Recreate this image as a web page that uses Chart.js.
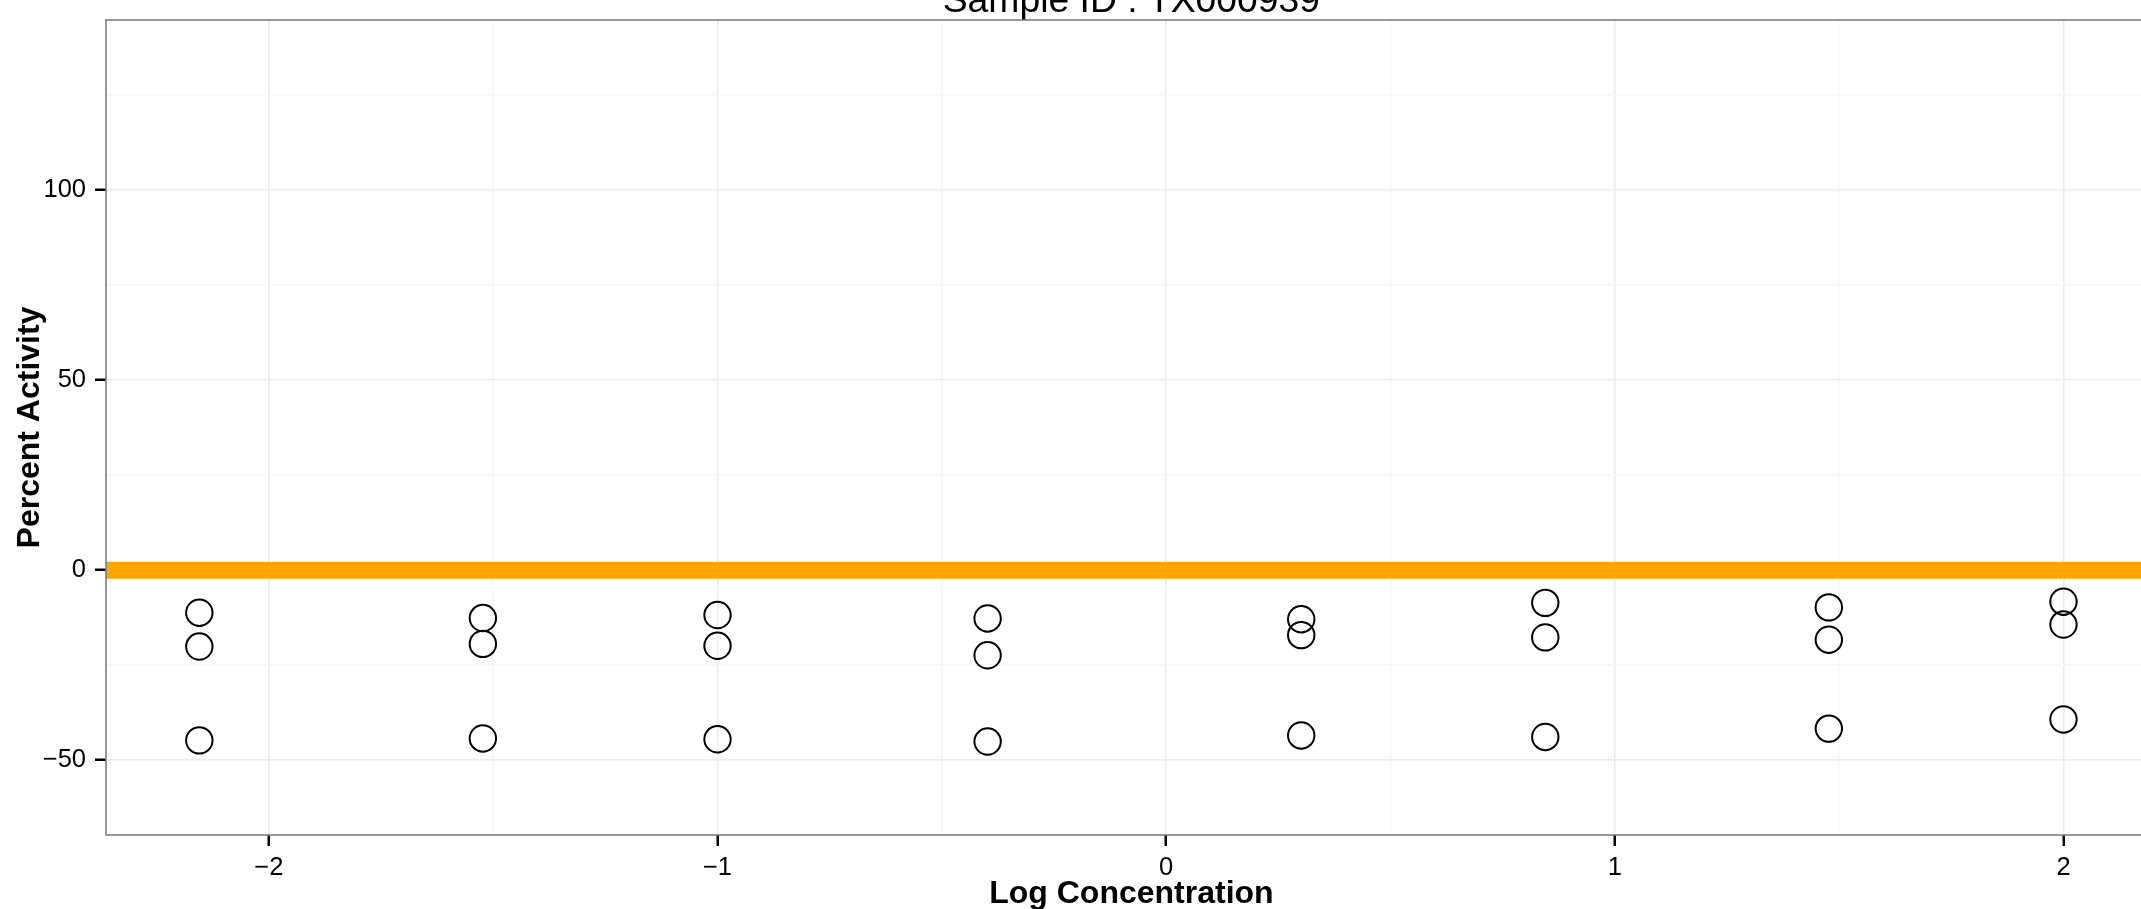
<!DOCTYPE html>
<html>
<head>
<meta charset="utf-8">
<script src="https://cdn.jsdelivr.net/npm/chart.js@4"></script>
<style>
  html, body { margin: 0; padding: 0; background: #ffffff; overflow: hidden; width: 2141px; height: 909px; }
  #wrap { position: absolute; left: 0; top: -40px; }
  canvas { display: block; }
</style>
</head>
<body>
<div id="wrap"><canvas id="c" width="2172" height="949"></canvas></div>
<script>
// ---- data ----
const logConc   = [-2.155, -1.523, -1.0, -0.398, 0.301, 0.845, 1.477, 2.0];
const activityA = [-11.2, -12.6, -11.8, -12.7, -12.9, -8.6, -9.8, -8.3];
const activityB = [-20.1, -19.4, -19.9, -22.4, -17.1, -17.7, -18.3, -14.3];
const activityC = [-44.8, -44.3, -44.5, -45.1, -43.5, -43.9, -41.7, -39.3];
const fitX = [-2.363, 2.208];
const fitY = [0, 0];
const xMajorTicks = [-2, -1, 0, 1, 2];
const xMinorTicks = [-1.5, -0.5, 0.5, 1.5];
const xTickLabels = ['\u22122', '\u22121', '0', '1', '2'];
const yMajorTicks = [-50, 0, 50, 100];
const yMinorTicks = [-25, 25, 75, 125];
const yTickLabels = ['\u221250', '0', '50', '100'];
const titleText = 'Sample ID : TX000939';
const xTitle = 'Log Concentration';
const yTitle = 'Percent Activity';
const xLimits = [-2.363, 2.208];
const yLimits = [-69.7, 144.8];

// ---- build ----
const points = [];
logConc.forEach((x, i) => {
  points.push({x: x, y: activityA[i]});
  points.push({x: x, y: activityB[i]});
  points.push({x: x, y: activityC[i]});
});
const fitLine = fitX.map((x, i) => ({x: x, y: fitY[i]}));

const FONT = '"Liberation Sans", Arial, Helvetica, sans-serif';
const MAJOR_GRID = '#EBEBEB';
const MINOR_GRID = '#F7F7F7';

function tickSetter(major, minor) {
  return function(scale) {
    scale.ticks = major.concat(minor).sort((a, b) => a - b).map(v => ({value: v}));
  };
}
function isMajor(list, ctx) {
  return ctx && ctx.tick && list.includes(ctx.tick.value);
}

const framePlugin = {
  id: 'panelFrame',
  afterDraw(chart) {
    const a = chart.chartArea;
    const ctx = chart.ctx;
    ctx.save();
    ctx.strokeStyle = '#7F7F7F';
    ctx.lineWidth = 1.6;
    ctx.strokeRect(a.left, a.top, a.right - a.left, a.bottom - a.top);
    ctx.restore();
  }
};

new Chart(document.getElementById('c'), {
  type: 'scatter',
  data: {
    datasets: [
      { type: 'line', data: fitLine, borderColor: '#FFA500', borderWidth: 17, pointRadius: 0, fill: false, tension: 0 },
      { type: 'scatter', data: points, pointRadius: 13.2, pointBorderWidth: 2, borderColor: '#000000',
        backgroundColor: 'rgba(0,0,0,0)', pointBackgroundColor: 'rgba(0,0,0,0)', pointBorderColor: '#000000' }
    ]
  },
  options: {
    responsive: false,
    animation: false,
    devicePixelRatio: 1,
    layout: { padding: { left: 0, right: 3.6, top: 0, bottom: 0 } },
    plugins: {
      legend: { display: false },
      tooltip: { enabled: false },
      title: {
        display: true, text: titleText, fullSize: false, color: '#000000',
        font: { family: FONT, size: 37.3, weight: 'normal', lineHeight: 1 },
        padding: { top: 22.7, bottom: 0 }
      }
    },
    scales: {
      x: {
        type: 'linear', position: 'bottom', min: xLimits[0], max: xLimits[1],
        afterBuildTicks: tickSetter(xMajorTicks, xMinorTicks),
        afterFit(scale) { scale.height = 74; },
        border: { display: false },
        grid: {
          color: ctx => isMajor(xMajorTicks, ctx) ? MAJOR_GRID : MINOR_GRID,
          lineWidth: 1.5, drawTicks: true, tickLength: 11, tickWidth: 2.5,
          tickColor: ctx => isMajor(xMajorTicks, ctx) ? '#000000' : 'rgba(0,0,0,0)'
        },
        ticks: {
          autoSkip: false, maxRotation: 0, padding: 7, color: '#000000',
          font: { family: FONT, size: 25.5 },
          callback: v => { const i = xMajorTicks.indexOf(v); return i >= 0 ? xTickLabels[i] : ''; }
        },
        title: {
          display: true, text: xTitle, color: '#000000',
          font: { family: FONT, size: 32, weight: 'bold', lineHeight: 0.9 },
          padding: { top: 0, bottom: 0.6 }
        }
      },
      y: {
        type: 'linear', position: 'left', min: yLimits[0], max: yLimits[1],
        afterBuildTicks: tickSetter(yMajorTicks, yMinorTicks),
        afterFit(scale) { scale.width = 106; },
        border: { display: false },
        grid: {
          color: ctx => isMajor(yMajorTicks, ctx) ? MAJOR_GRID : MINOR_GRID,
          lineWidth: 1.5, drawTicks: true, tickLength: 11, tickWidth: 2.5,
          tickColor: ctx => isMajor(yMajorTicks, ctx) ? '#000000' : 'rgba(0,0,0,0)'
        },
        ticks: {
          autoSkip: false, padding: 9, color: '#000000',
          font: { family: FONT, size: 25.5 },
          callback: v => { const i = yMajorTicks.indexOf(v); return i >= 0 ? yTickLabels[i] : ''; }
        },
        title: {
          display: true, text: yTitle, color: '#000000',
          font: { family: FONT, size: 32, weight: 'bold', lineHeight: 1 },
          padding: { top: 14, bottom: 0 }
        }
      }
    }
  },
  plugins: [framePlugin]
});
</script>
</body>
</html>
